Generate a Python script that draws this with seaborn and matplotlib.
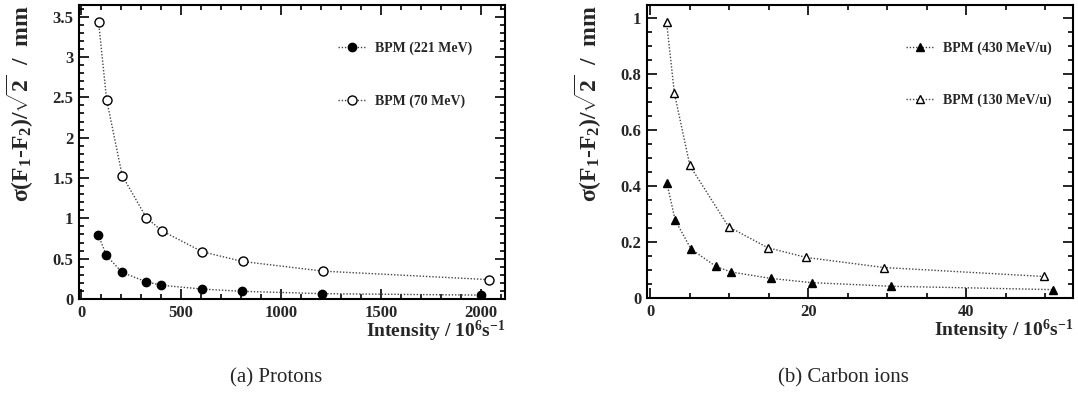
"""
Position resolution of the BPM versus beam intensity, protons and carbon ions.
"""

import matplotlib
matplotlib.use("Agg")
import matplotlib.pyplot as plt
import matplotlib.ticker as ticker
import seaborn as sns

# protons (left panel)
p221_x = [87, 127, 205, 324, 402, 605, 805, 1204, 2000]
p221_y = [0.79, 0.54, 0.33, 0.215, 0.17, 0.123, 0.095, 0.066, 0.048]
p70_x = [88, 128, 206, 326, 404, 607, 808, 1211, 2040]
p70_y = [3.43, 2.47, 1.53, 1.01, 0.845, 0.585, 0.465, 0.345, 0.24]

# carbon ions (right panel)
c430_x = [2.1, 3.15, 5.15, 8.3, 10.2, 15.3, 20.4, 30.5, 51.0]
c430_y = [0.41, 0.278, 0.175, 0.113, 0.093, 0.070, 0.055, 0.042, 0.030]
c130_x = [2.05, 3.05, 5.0, 9.9, 14.85, 19.75, 29.6, 49.8]
c130_y = [0.988, 0.732, 0.474, 0.255, 0.180, 0.145, 0.109, 0.077]

YLABEL = r"$\sigma$(F$_{1}$-F$_{2}$)/$\sqrt{2}$  /  mm"
XLABEL = r"Intensity / 10$^{6}$s$^{-1}$"

sns.set_style("ticks")
plt.rcParams["font.family"] = ["Liberation Serif", "DejaVu Serif"]
plt.rcParams["font.weight"] = "bold"
plt.rcParams["mathtext.fontset"] = "custom"
plt.rcParams["mathtext.rm"] = "Liberation Serif:weight=bold"
plt.rcParams["mathtext.it"] = "Liberation Serif:weight=bold"
plt.rcParams["mathtext.bf"] = "Liberation Serif:weight=bold"
plt.rcParams["mathtext.default"] = "rm"

LINE_COLOR = "#444444"


def draw_series(ax, x, y, marker, face, size, label):
    sns.lineplot(
        x=x, y=y, ax=ax, color=LINE_COLOR, linestyle=(0, (1, 1.3)), linewidth=1.0,
        marker=marker, markersize=size, markerfacecolor=face,
        markeredgecolor="black", markeredgewidth=1.0, label=label,
    )


def style_axes(ax, xlim, ylim, xmaj, xmin, ymaj, ymin):
    ax.set_xlim(*xlim)
    ax.set_ylim(*ylim)
    ax.xaxis.set_major_locator(ticker.MultipleLocator(xmaj))
    ax.xaxis.set_minor_locator(ticker.MultipleLocator(xmin))
    ax.yaxis.set_major_locator(ticker.MultipleLocator(ymaj))
    ax.yaxis.set_minor_locator(ticker.MultipleLocator(ymin))
    fmt = ticker.FuncFormatter(lambda v, p: f"{v:g}")
    ax.xaxis.set_major_formatter(fmt)
    ax.yaxis.set_major_formatter(fmt)
    ax.tick_params(which="both", direction="in", top=True, right=True,
                   width=1.2, labelsize=12, pad=4, color="black")
    ax.tick_params(which="major", length=7)
    ax.tick_params(which="minor", length=3.5)
    for s in ax.spines.values():
        s.set_linewidth(1.5)
        s.set_color("black")
    ax.set_xlabel(XLABEL, fontsize=14, fontweight="bold", loc="right")
    ax.set_ylabel(YLABEL, fontsize=17, fontweight="bold", loc="top")
    ax.xaxis.set_label_coords(1.0, -0.068)
    ax.legend(loc="upper left", bbox_to_anchor=(0.609, 0.875), frameon=False,
              fontsize=10, handlelength=2.0, handletextpad=0.6, labelspacing=2.8,
              borderpad=0, borderaxespad=0, numpoints=1)


fig = plt.figure(figsize=(10.78, 4.07), dpi=100)
ax1 = fig.add_axes([0.0733, 0.2654, 0.3952, 0.7224])
ax2 = fig.add_axes([0.6002, 0.2678, 0.3952, 0.7199])

draw_series(ax1, p221_x, p221_y, "o", "black", 6.0, "BPM (221 MeV)")
draw_series(ax1, p70_x, p70_y, "o", "white", 6.5, "BPM (70 MeV)")
style_axes(ax1, (-10, 2120), (0, 3.645), 500, 100, 0.5, 0.1)
ax1.yaxis.set_label_coords(-0.10, 1.0)

draw_series(ax2, c430_x, c430_y, "^", "black", 5.5, "BPM (430 MeV/u)")
draw_series(ax2, c130_x, c130_y, "^", "white", 6.0, "BPM (130 MeV/u)")
style_axes(ax2, (-0.42, 53.5), (0, 1.048), 20, 5, 0.2, 0.05)
ax2.yaxis.set_label_coords(-0.101, 1.0)

fig.text(276 / 1078, 1 - 378 / 407, "(a) Protons", ha="center", va="center",
         fontsize=15, fontweight="normal")
fig.text(843 / 1078, 1 - 378 / 407, "(b) Carbon ions", ha="center", va="center",
         fontsize=15, fontweight="normal")

fig.savefig("out.png", dpi=100)
plt.close(fig)
